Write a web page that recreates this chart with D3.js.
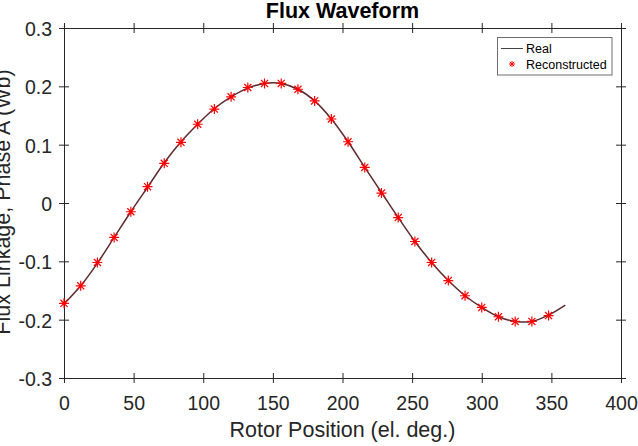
<!DOCTYPE html>
<html>
<head>
<meta charset="utf-8">
<script src="https://cdn.jsdelivr.net/npm/d3@7"></script>
<style>
  body { margin: 0; background: #fff; }
  svg { display: block; font-family: "Liberation Sans", Arial, sans-serif; }
</style>
</head>
<body>
<div id="chart"></div>
<script>
// Chart data.
const realAngles = [0, 12, 24, 36, 48, 60, 72, 84, 96, 108, 120, 132, 144, 156, 168,
  180, 192, 204, 216, 228, 240, 252, 264, 276, 288, 300, 312, 324, 336, 348, 360];
const realFlux = [-0.173, -0.142, -0.103, -0.059, -0.015, 0.027, 0.069, 0.105, 0.135, 0.162,
  0.182, 0.197, 0.205, 0.205, 0.195, 0.175, 0.144, 0.105, 0.061, 0.018,
  -0.025, -0.066, -0.102, -0.133, -0.159, -0.179, -0.195, -0.203, -0.203, -0.192, -0.175];
const reconAngles = [0, 12, 24, 36, 48, 60, 72, 84, 96, 108, 120, 132, 144, 156, 168,
  180, 192, 204, 216, 228, 240, 252, 264, 276, 288, 300, 312, 324, 336, 348];
const reconFlux = [-0.172, -0.142, -0.102, -0.059, -0.015, 0.028, 0.068, 0.104, 0.135, 0.161,
  0.182, 0.198, 0.205, 0.205, 0.195, 0.175, 0.144, 0.105, 0.061, 0.017,
  -0.025, -0.066, -0.102, -0.133, -0.159, -0.179, -0.195, -0.203, -0.203, -0.193];
const xTicks = [0, 50, 100, 150, 200, 250, 300, 350, 400];
const yTicks = [-0.3, -0.2, -0.1, 0, 0.1, 0.2, 0.3];
const seriesNames = ["Real", "Reconstructed"];

const WIDTH = 638;
const HEIGHT = 446;
const MARGIN = { left: 64, right: 17, top: 28, bottom: 68 };
const AXIS_COLOR = "#262626";

const svg = d3.select("#chart").append("svg")
  .attr("width", WIDTH)
  .attr("height", HEIGHT);

const xScale = d3.scaleLinear().domain([0, 400]).range([MARGIN.left, WIDTH - MARGIN.right]);
const yScale = d3.scaleLinear().domain([-0.3, 0.3]).range([HEIGHT - MARGIN.bottom, MARGIN.top]);

// Ticks in MATLAB style cross the axis line, so stretch them both ways.
function styleAxis (g, horizontal) {
  g.select(".domain").attr("stroke", AXIS_COLOR).attr("stroke-width", 1);
  g.selectAll(".tick line").attr("stroke", AXIS_COLOR)
    .attr(horizontal ? "y1" : "x1", -5)
    .attr(horizontal ? "y2" : "x2", 5);
  g.selectAll(".tick text").attr("fill", AXIS_COLOR).style("font-size", "19.5px");
}

const xBottom = svg.append("g")
  .attr("transform", `translate(0,${yScale(-0.3)})`)
  .call(d3.axisBottom(xScale).tickValues(xTicks).tickSizeOuter(0));
styleAxis(xBottom, true);
xBottom.selectAll(".tick text").attr("y", 32).attr("dy", null);

const xTop = svg.append("g")
  .attr("transform", `translate(0,${yScale(0.3)})`)
  .call(d3.axisTop(xScale).tickValues(xTicks).tickFormat("").tickSizeOuter(0));
styleAxis(xTop, true);

// plain hyphen for negatives, like MATLAB
const yLeft = svg.append("g")
  .attr("transform", `translate(${xScale(0)},0)`)
  .call(d3.axisLeft(yScale).tickValues(yTicks).tickFormat((d) => String(d)).tickSizeOuter(0));
styleAxis(yLeft, false);
yLeft.selectAll(".tick text").attr("x", -12).attr("dy", "0.38em");

const yRight = svg.append("g")
  .attr("transform", `translate(${xScale(400)},0)`)
  .call(d3.axisRight(yScale).tickValues(yTicks).tickFormat("").tickSizeOuter(0));
styleAxis(yRight, false);

// Real waveform line.
const line = d3.line()
  .x((d, i) => xScale(realAngles[i]))
  .y((d) => yScale(d))
  .curve(d3.curveCatmullRom);

svg.append("path")
  .datum(realFlux)
  .attr("d", line)
  .attr("fill", "none")
  .attr("stroke", "#5e2a2e")
  .attr("stroke-width", 1.5);

// Asterisk marker like MATLAB's '*'.
function asterisk (r) {
  const p = d3.path();
  const k = r * Math.SQRT1_2;
  p.moveTo(-r, 0); p.lineTo(r, 0);
  p.moveTo(0, -r); p.lineTo(0, r);
  p.moveTo(-k, -k); p.lineTo(k, k);
  p.moveTo(-k, k); p.lineTo(k, -k);
  return p.toString();
}

svg.append("g").selectAll("path")
  .data(reconFlux)
  .join("path")
  .attr("transform", (d, i) => `translate(${xScale(reconAngles[i])},${yScale(d)})`)
  .attr("d", asterisk(5))
  .attr("fill", "none")
  .attr("stroke", "#ff0000")
  .attr("stroke-width", 1.2);

// Title and axis labels.
svg.append("text")
  .attr("x", (xScale(0) + xScale(400)) / 2)
  .attr("y", 18)
  .attr("text-anchor", "middle")
  .style("font-size", "21.5px")
  .style("font-weight", "bold")
  .attr("fill", "#000")
  .text("Flux Waveform");

svg.append("text")
  .attr("x", (xScale(0) + xScale(400)) / 2)
  .attr("y", 437)
  .attr("text-anchor", "middle")
  .style("font-size", "21.5px")
  .attr("fill", AXIS_COLOR)
  .text("Rotor Position (el. deg.)");

// the reference crops this label at the left edge
svg.append("text")
  .attr("transform", "translate(10,202) rotate(-90)")
  .attr("text-anchor", "middle")
  .style("font-size", "21.5px")
  .attr("fill", AXIS_COLOR)
  .text("Flux Linkage, Phase A (Wb)");

// Legend.
const legend = svg.append("g");
legend.append("rect")
  .attr("x", 497.5).attr("y", 37.5)
  .attr("width", 114.5).attr("height", 37.5)
  .attr("fill", "#fff")
  .attr("stroke", "#6e6e6e")
  .attr("stroke-width", 1);
legend.append("line")
  .attr("x1", 501).attr("x2", 523)
  .attr("y1", 48.5).attr("y2", 48.5)
  .attr("stroke", "#444")
  .attr("stroke-width", 1);
legend.append("path")
  .attr("transform", "translate(512,64)")
  .attr("d", asterisk(3))
  .attr("fill", "none")
  .attr("stroke", "#ff0000")
  .attr("stroke-width", 1);
legend.selectAll("text.lbl")
  .data(seriesNames)
  .join("text")
  .attr("class", "lbl")
  .attr("x", 526)
  .attr("y", (d, i) => 52.5 + i * 16)
  .style("font-size", "12.5px")
  .attr("fill", "#000")
  .text((d) => d);
</script>
</body>
</html>
